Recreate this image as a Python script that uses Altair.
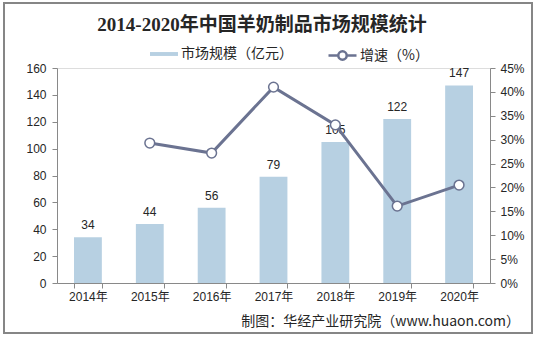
import altair as alt
import pandas as pd

years = ["2014年", "2015年", "2016年", "2017年", "2018年", "2019年", "2020年"]
market_size = [34, 44, 56, 79, 105, 122, 147]
growth_pct = [None, 29.3, 27.2, 41.0, 33.1, 16.1, 20.5]
left_ticks = [0, 20, 40, 60, 80, 100, 120, 140, 160]
right_ticks = [0, 0.05, 0.10, 0.15, 0.20, 0.25, 0.30, 0.35, 0.40, 0.45]
series_bar = "市场规模（亿元）"
series_line = "增速（%）"
title_text = "2014-2020年中国羊奶制品市场规模统计"
source_text = "制图：华经产业研究院（www.huaon.com）"

BAR_COLOR = "#b7d0e2"
LINE_COLOR = "#6b7391"
AXIS_COLOR = "#898989"
TEXT_COLOR = "#262626"
LATIN = "Liberation Sans, Noto Sans CJK SC"
CJK = "Noto Sans CJK SC"

df = pd.DataFrame({
    "year": years,
    "size": market_size,
    "growth": [g / 100 if g is not None else None for g in growth_pct],
    "s1": series_bar,
    "s2": series_line,
})

base = alt.Chart(df)

x_enc = alt.X(
    "year:N", sort=years, title=None,
    scale=alt.Scale(paddingInner=0.55, paddingOuter=0.275),
    axis=alt.Axis(labelAngle=0, tickBand="extent", domainColor=AXIS_COLOR,
                  tickColor=AXIS_COLOR, tickSize=5, labelPadding=3,
                  labelFontSize=12, labelColor=TEXT_COLOR, labelFont=LATIN),
)

y_left = alt.Y(
    "size:Q", title=None,
    scale=alt.Scale(domain=[0, 160]),
    axis=alt.Axis(values=left_ticks, domainColor=AXIS_COLOR, tickColor=AXIS_COLOR,
                  tickSize=5, labelPadding=6, labelFontSize=12, labelOverlap=False,
                  labelColor=TEXT_COLOR, labelFont=LATIN, grid=False),
)

bars = base.mark_bar().encode(
    x=x_enc,
    y=y_left,
    color=alt.Color(
        "s1:N",
        scale=alt.Scale(domain=[series_bar], range=[BAR_COLOR]),
        legend=alt.Legend(orient="none", legendX=93, legendY=-28, title=None,
                          symbolType="M-1,-0.14H1V0.14H-1Z", symbolSize=784,
                          symbolStrokeWidth=0, labelFontSize=14, labelFont=CJK,
                          labelColor=TEXT_COLOR, labelOffset=3, padding=0),
    ),
)

bar_labels = base.mark_text(dy=-12, fontSize=12, font=LATIN, color=TEXT_COLOR).encode(
    x=x_enc,
    y=y_left,
    text=alt.Text("size:Q"),
)

y_right = alt.Y(
    "growth:Q", title=None,
    scale=alt.Scale(domain=[0, 0.45]),
    axis=alt.Axis(orient="right", values=right_ticks, format=".0%",
                  domainColor=AXIS_COLOR, tickColor=AXIS_COLOR, tickSize=5,
                  labelPadding=5, labelFontSize=12, labelColor=TEXT_COLOR,
                  labelOverlap=False, labelFont=LATIN, grid=False),
)

growth_base = base.transform_filter("isValid(datum.growth)")

line = growth_base.mark_line(strokeWidth=3).encode(
    x=x_enc,
    y=y_right,
    stroke=alt.Stroke(
        "s2:N",
        scale=alt.Scale(domain=[series_line], range=[LINE_COLOR]),
        legend=alt.Legend(orient="none", legendX=270, legendY=-28, title=None,
                          symbolType="M-1,0H-0.3M0.3,0H1M0.3,0A0.3,0.3,0,1,1,-0.3,0A0.3,0.3,0,1,1,0.3,0Z",
                          symbolSize=784, symbolStrokeWidth=2.5,
                          symbolFillColor="white", labelFontSize=14, labelFont=CJK,
                          labelColor=TEXT_COLOR, labelOffset=2, padding=0),
    ),
)

points = growth_base.mark_point(filled=True, fill="white", stroke=LINE_COLOR,
                                strokeWidth=1.5, size=95, opacity=1).encode(
    x=x_enc,
    y=y_right,
)

title = alt.Chart(pd.DataFrame({"t": [title_text]})).mark_text(
    align="center", baseline="middle", fontSize=19,
    font="Liberation Serif, Noto Sans CJK SC", fontWeight="bold", color=TEXT_COLOR
).encode(x=alt.value(205), y=alt.value(-43), text="t:N")

source = alt.Chart(pd.DataFrame({"t": [source_text]})).mark_text(
    align="right", baseline="middle", fontSize=14, font=CJK, color=TEXT_COLOR
).encode(x=alt.value(463), y=alt.value(254), text="t:N")

frame = alt.Chart(pd.DataFrame({"a": [0]})).mark_rect(
    fillOpacity=0, stroke="#868686", strokeWidth=2
).encode(x=alt.value(-53), x2=alt.value(475), y=alt.value(-65), y2=alt.value(265))

chart = alt.layer(
    alt.layer(bars, bar_labels),
    alt.layer(line, points),
    title,
    source,
    frame,
).resolve_scale(y="independent").properties(
    width=433,
    height=215,
    autosize=alt.AutoSizeParams(type="none"),
    padding={"left": 57, "top": 68, "right": 45, "bottom": 54},
).configure_view(strokeWidth=0).configure(background="white")

chart.save("out.html", embed_options={"renderer": "svg", "actions": False})
